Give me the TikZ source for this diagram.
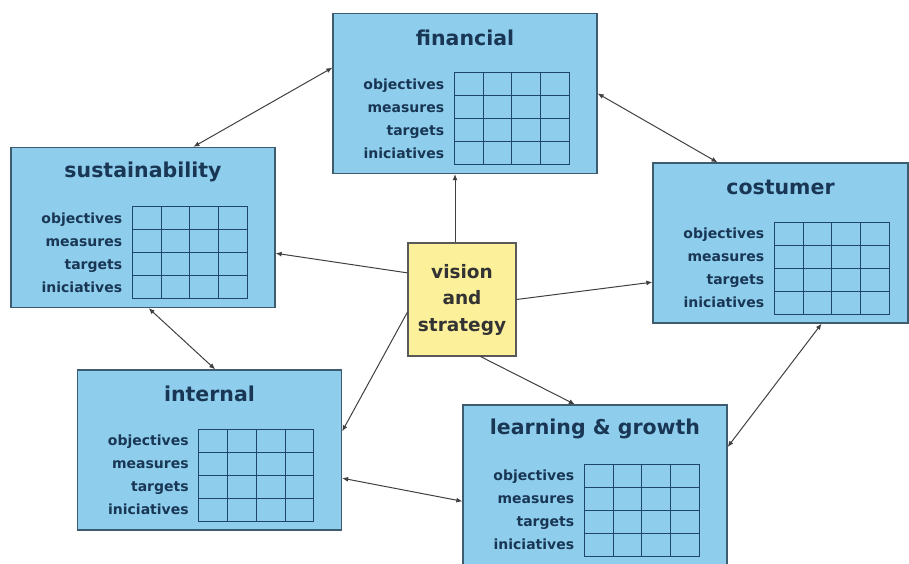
\documentclass[tikz,border=0pt]{standalone}
\usepackage{fontspec}
\setmainfont{DejaVu Sans}
\usepackage{xcolor}
\definecolor{card}{RGB}{142,206,236}
\definecolor{cardline}{RGB}{62,92,112}
\definecolor{cellline}{RGB}{30,70,105}
\definecolor{ink}{RGB}{25,55,85}
\definecolor{core}{RGB}{252,240,155}
\usepackage{tikz}
\usetikzlibrary{arrows.meta,calc}
\tikzset{
  card/.style={draw=cardline,fill=card,line width=1.3pt,%
    minimum width=264pt,minimum height=160pt,inner sep=0pt},
  title/.style={font=\bfseries\fontsize{20.5}{24}\selectfont,text=ink},
  rowlabel/.style={font=\bfseries\fontsize{14}{16}\selectfont,text=ink,%
    anchor=base east,inner sep=0pt},
  cell/.style={draw=cellline,line width=1.1pt,line cap=rect},
  vision/.style={draw=gray!70!black,fill=core,line width=1.1pt,%
    minimum width=108pt,minimum height=113pt,align=center,%
    font=\bfseries\fontsize{18.5}{26.5}\selectfont,text=black!80},
  link/.style={-{Latex[length=6pt,width=5pt]},line width=1pt,draw=black!75},
  both/.style={link,{Latex[length=6pt,width=5pt]}-{Latex[length=6pt,width=5pt]}},
}
% title, row labels and 4x4 grid of one perspective
\newcommand{\scorecard}[2]{%
  \node[title] at ($(#1.north)+(0,-25)$) {#2};
  \foreach \r [count=\k] in {objectives,measures,targets,iniciatives}
    \node[rowlabel] at ($(#1.north west)+(112,{-53.5-23*\k})$) {\r};
  \foreach \c in {0,...,4}
    \draw[cell] ($(#1.north west)+({122+28.75*\c},-60)$) -- ++(0,-92);
  \foreach \k in {0,...,4}
    \draw[cell] ($(#1.north west)+(122,{-60-23*\k})$) -- ++(115,0);
}

\begin{document}
\begin{tikzpicture}[x=1pt,y=1pt]
\useasboundingbox (0,0) rectangle (909,564);
\node[card] (fin) at (465,470.5) {};
\node[card] (sus) at (143,336.5) {};
\node[card,minimum width=255pt] (cos) at (780.5,321) {};
\node[card] (int) at (209.5,114) {};
\node[card] (lea) at (595,79) {};
\node[vision] (vis) at (462,264.5) {vision\\and\\strategy};
\scorecard{fin}{financial}
\scorecard{sus}{sustainability}
\scorecard{cos}{costumer}
\scorecard{int}{internal}
\scorecard{lea}{learning \& growth}
% links from the centre
\draw[link] (vis.97) -- (vis.97 |- fin.south);
\draw[link] (vis.154) -- (sus.-11);
\draw[link] (vis.east) -- (cos.197);
\draw[link] (vis.193) -- (int.8);
\draw[link] (vis.-72) -- (lea.104);
% links round the ring
\draw[both] (sus.58) -- (fin.169);
\draw[both] (fin.east) -- (cos.128);
\draw[both] (cos.-63) -- (lea.16);
\draw[both] (lea.187) -- (int.-12);
\draw[both] (int.86) -- (sus.-86);
\end{tikzpicture}
\end{document}
